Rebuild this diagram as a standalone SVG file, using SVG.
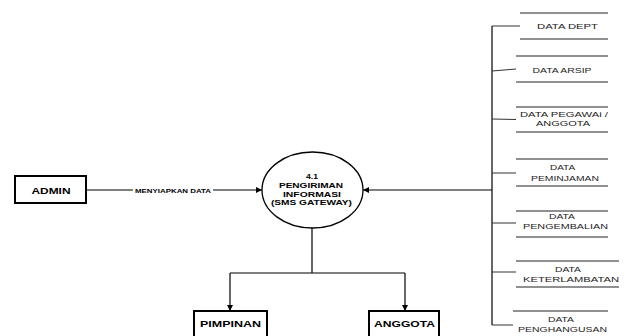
<svg xmlns="http://www.w3.org/2000/svg" width="624" height="336" viewBox="0 0 624 336">
  <style>
    .ent { fill: #fff; stroke: #000; stroke-width: 2; }
    .ent-txt { font-family: "Liberation Sans", Arial, sans-serif; font-weight: bold; font-size: 9.5px; fill: #000; text-anchor: middle; }
    .proc { fill: #fff; stroke: #000; stroke-width: 1.3; }
    .proc-txt { font-family: "Liberation Sans", Arial, sans-serif; font-weight: bold; font-size: 7.5px; fill: #000; text-anchor: middle; }
    .store-line { stroke: #222; stroke-width: 1.2; fill: none; }
    .store-txt { font-family: "Liberation Sans", Arial, sans-serif; font-size: 7.6px; fill: #222; text-anchor: middle; }
    .flow { stroke: #000; stroke-width: 1.2; fill: none; }
    .bus { stroke: #666; stroke-width: 2; fill: none; }
    .tap { stroke: #333; stroke-width: 1; fill: none; }
    .lbl { font-family: "Liberation Sans", Arial, sans-serif; font-weight: bold; font-size: 6px; fill: #000; text-anchor: middle; }
  </style>
  <defs>
    <marker id="arr" viewBox="0 0 10 10" refX="10" refY="5" markerWidth="6" markerHeight="6" markerUnits="userSpaceOnUse" orient="auto">
      <path d="M0,0 L10,5 L0,10 z" fill="#000"/>
    </marker>
  </defs>

  <rect width="624" height="336" fill="#fff"/>

  <!-- connectors -->
  <g id="connectors">
    <!-- ADMIN to process -->
    <line class="flow" x1="86" y1="190" x2="133" y2="190"/>
    <line class="flow" x1="213" y1="190" x2="262" y2="190" marker-end="url(#arr)"/>
    <text class="lbl" x="173" y="192.5" textLength="76" lengthAdjust="spacingAndGlyphs">MENYIAPKAN DATA</text>

    <!-- data stores bus into process -->
    <line class="bus" x1="492" y1="26" x2="492" y2="325"/>
    <line class="flow" x1="492" y1="190" x2="363" y2="190" marker-end="url(#arr)"/>
    <line class="tap" x1="492" y1="26" x2="520" y2="26"/>
    <line class="tap" x1="492" y1="71" x2="516" y2="69"/>
    <line class="tap" x1="492" y1="119" x2="516" y2="119.5"/>
    <line class="tap" x1="492" y1="173" x2="516" y2="173"/>
    <line class="tap" x1="492" y1="223" x2="516" y2="223" stroke="#666"/>
    <line class="tap" x1="492" y1="272" x2="516" y2="272"/>
    <line class="tap" x1="492" y1="325" x2="513" y2="325"/>

    <!-- process to outputs -->
    <line class="flow" x1="312" y1="228" x2="312" y2="273"/>
    <line class="flow" x1="230" y1="273" x2="405" y2="273"/>
    <line class="flow" x1="230" y1="273" x2="230" y2="311" marker-end="url(#arr)"/>
    <line class="flow" x1="405" y1="273" x2="405" y2="311" marker-end="url(#arr)"/>
  </g>

  <!-- external entities -->
  <g id="admin">
    <rect class="ent" x="15" y="176" width="71" height="27"/>
    <text class="ent-txt" x="51" y="194" textLength="39" lengthAdjust="spacingAndGlyphs">ADMIN</text>
  </g>
  <g id="pimpinan">
    <rect class="ent" x="194" y="311" width="73" height="30"/>
    <text class="ent-txt" x="230.5" y="327" textLength="61" lengthAdjust="spacingAndGlyphs">PIMPINAN</text>
  </g>
  <g id="anggota">
    <rect class="ent" x="369" y="311" width="70" height="30"/>
    <text class="ent-txt" x="404.5" y="327" textLength="61" lengthAdjust="spacingAndGlyphs">ANGGOTA</text>
  </g>

  <!-- process -->
  <g id="proc-4-1">
    <ellipse class="proc" cx="312.5" cy="190" rx="50.5" ry="38"/>
    <text class="proc-txt" x="312" y="179" textLength="12" lengthAdjust="spacingAndGlyphs">4.1</text>
    <text class="proc-txt" x="311" y="188" textLength="64" lengthAdjust="spacingAndGlyphs">PENGIRIMAN</text>
    <text class="proc-txt" x="312" y="197" textLength="58" lengthAdjust="spacingAndGlyphs">INFORMASI</text>
    <text class="proc-txt" x="311.5" y="205" textLength="81" lengthAdjust="spacingAndGlyphs">(SMS GATEWAY)</text>
  </g>

  <!-- data stores -->
  <g id="store-dept">
    <line class="store-line" x1="520" y1="13" x2="608" y2="13"/>
    <line class="store-line" x1="520" y1="39" x2="608" y2="39"/>
    <text class="store-txt" x="567.5" y="28.5" textLength="61" lengthAdjust="spacingAndGlyphs">DATA DEPT</text>
  </g>
  <g id="store-arsip">
    <line class="store-line" x1="516" y1="56" x2="608" y2="56"/>
    <line class="store-line" x1="516" y1="82" x2="608" y2="82"/>
    <text class="store-txt" x="562" y="73" textLength="59" lengthAdjust="spacingAndGlyphs">DATA ARSIP</text>
  </g>
  <g id="store-pegawai">
    <line class="store-line" x1="516" y1="107" x2="608" y2="107"/>
    <line class="store-line" x1="516" y1="132" x2="608" y2="132"/>
    <text class="store-txt" x="564" y="117" textLength="88" lengthAdjust="spacingAndGlyphs">DATA PEGAWAi /</text>
    <text class="store-txt" x="563" y="126" textLength="54" lengthAdjust="spacingAndGlyphs">ANGGOTA</text>
  </g>
  <g id="store-peminjaman">
    <line class="store-line" x1="516" y1="159" x2="608" y2="159"/>
    <line class="store-line" x1="516" y1="186" x2="608" y2="186"/>
    <text class="store-txt" x="562.5" y="170" textLength="25" lengthAdjust="spacingAndGlyphs">DATA</text>
    <text class="store-txt" x="565" y="181" textLength="68" lengthAdjust="spacingAndGlyphs">PEMINJAMAN</text>
  </g>
  <g id="store-pengembalian">
    <line class="store-line" x1="516" y1="211" x2="608" y2="211"/>
    <line class="store-line" x1="516" y1="237" x2="608" y2="237"/>
    <text class="store-txt" x="562" y="219" textLength="26" lengthAdjust="spacingAndGlyphs">DATA</text>
    <text class="store-txt" x="565.5" y="229" textLength="85" lengthAdjust="spacingAndGlyphs">PENGEMBALIAN</text>
  </g>
  <g id="store-keterlambatan">
    <line class="store-line" x1="516" y1="261" x2="619" y2="261"/>
    <line class="store-line" x1="516" y1="287" x2="619" y2="287"/>
    <text class="store-txt" x="568" y="272" textLength="26" lengthAdjust="spacingAndGlyphs">DATA</text>
    <text class="store-txt" x="571" y="282" textLength="96" lengthAdjust="spacingAndGlyphs">KETERLAMBATAN</text>
  </g>
  <g id="store-penghangusan">
    <line class="store-line" x1="513" y1="311" x2="608" y2="311"/>
    <text class="store-txt" x="561" y="322" textLength="26" lengthAdjust="spacingAndGlyphs">DATA</text>
    <text class="store-txt" x="562.5" y="332" textLength="89" lengthAdjust="spacingAndGlyphs">PENGHANGUSAN</text>
  </g>
</svg>
